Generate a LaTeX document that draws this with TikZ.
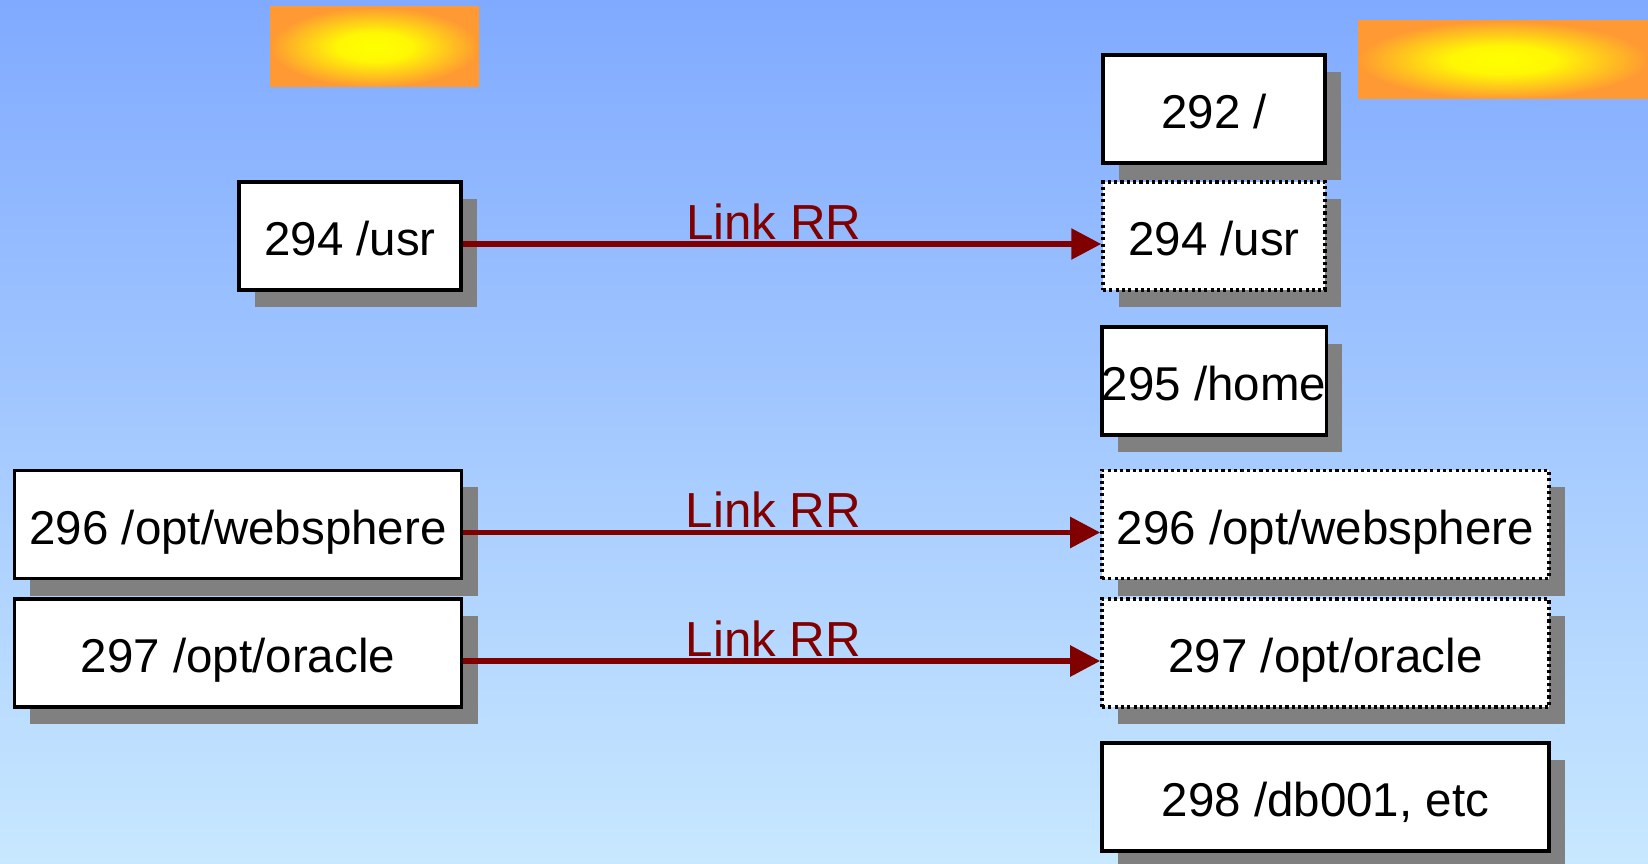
\documentclass[tikz,border=0pt]{standalone}
\usepackage{fontspec}
\setmainfont{Liberation Sans}
\usepackage{xcolor}
\usepackage{tikz}
\usetikzlibrary{arrows.meta}
\usetikzlibrary{shadows}

\definecolor{linkred}{HTML}{800000}
\definecolor{skytop}{HTML}{80AAFF}
\definecolor{skybot}{HTML}{C8E8FF}
\definecolor{flame}{HTML}{FF9933}
\pgfdeclareradialshading{glow}{\pgfpoint{0bp}{0bp}}{color(0bp)=(yellow); color(9bp)=(yellow!92!flame); color(25bp)=(flame); color(50bp)=(flame)}

\tikzset{
  box/.style={draw, fill=white, line width=0.95pt, inner xsep=0pt,
    minimum width=2.22cm, minimum height=1.08cm,
    text height=0.394cm, text depth=0pt,
    font=\fontsize{13.5pt}{16pt}\selectfont,
    drop shadow={shadow xshift=0.16cm, shadow yshift=-0.17cm, fill=black!50, opacity=1}},
  wide/.style={minimum width=4.47cm},
  dots/.style={dash pattern=on 0.9pt off 0.9pt},
  link/.style={draw=linkred, line width=1.6pt, -{Triangle[length=0.3cm,width=0.3cm]}},
  lbl/.style={anchor=south, inner sep=0pt, yshift=0.02cm, pos=0.487, text=linkred,
    font=\fontsize{14pt}{16pt}\selectfont},
  sun/.style={shading=glow}
}

\begin{document}
\begin{tikzpicture}[x=0.01cm,y=-0.01cm]
    \shade[top color=skytop, bottom color=skybot] (0,0) rectangle (1648,864);
    \useasboundingbox (0,0) rectangle (1648,864);
    \shade[sun] (270,7) rectangle (479,87);
    \shade[sun] (1358,21) rectangle (1648,99);

    \node[box] (lusr) at (350,236) {294 /usr};
    \node[box,wide] (lweb) at (238,524.5) {296 /opt/websphere};
    \node[box,wide] (lora) at (238,653) {297 /opt/oracle};

    \node[box] (rroot) at (1214,109) {292 /};
    \node[box,dots] (rusr) at (1214,236) {294 /usr};
    \node[box] (rhome) at (1214,381) {295 /home};
    \node[box,wide,dots] (rweb) at (1325.5,524.5) {296 /opt/websphere};
    \node[box,wide,dots] (rora) at (1325.5,653) {297 /opt/oracle};
    \node[box,wide] (rdb) at (1325.5,797) {298 /db001, etc};

    \draw[link] ([yshift=-0.08cm]lusr.east) -- node[lbl]{Link RR} ([yshift=-0.08cm]rusr.west);
    \draw[link] ([yshift=-0.08cm]lweb.east) -- node[lbl]{Link RR} ([yshift=-0.08cm]rweb.west);
    \draw[link] ([yshift=-0.08cm]lora.east) -- node[lbl]{Link RR} ([yshift=-0.08cm]rora.west);
  \end{tikzpicture}
\end{document}
